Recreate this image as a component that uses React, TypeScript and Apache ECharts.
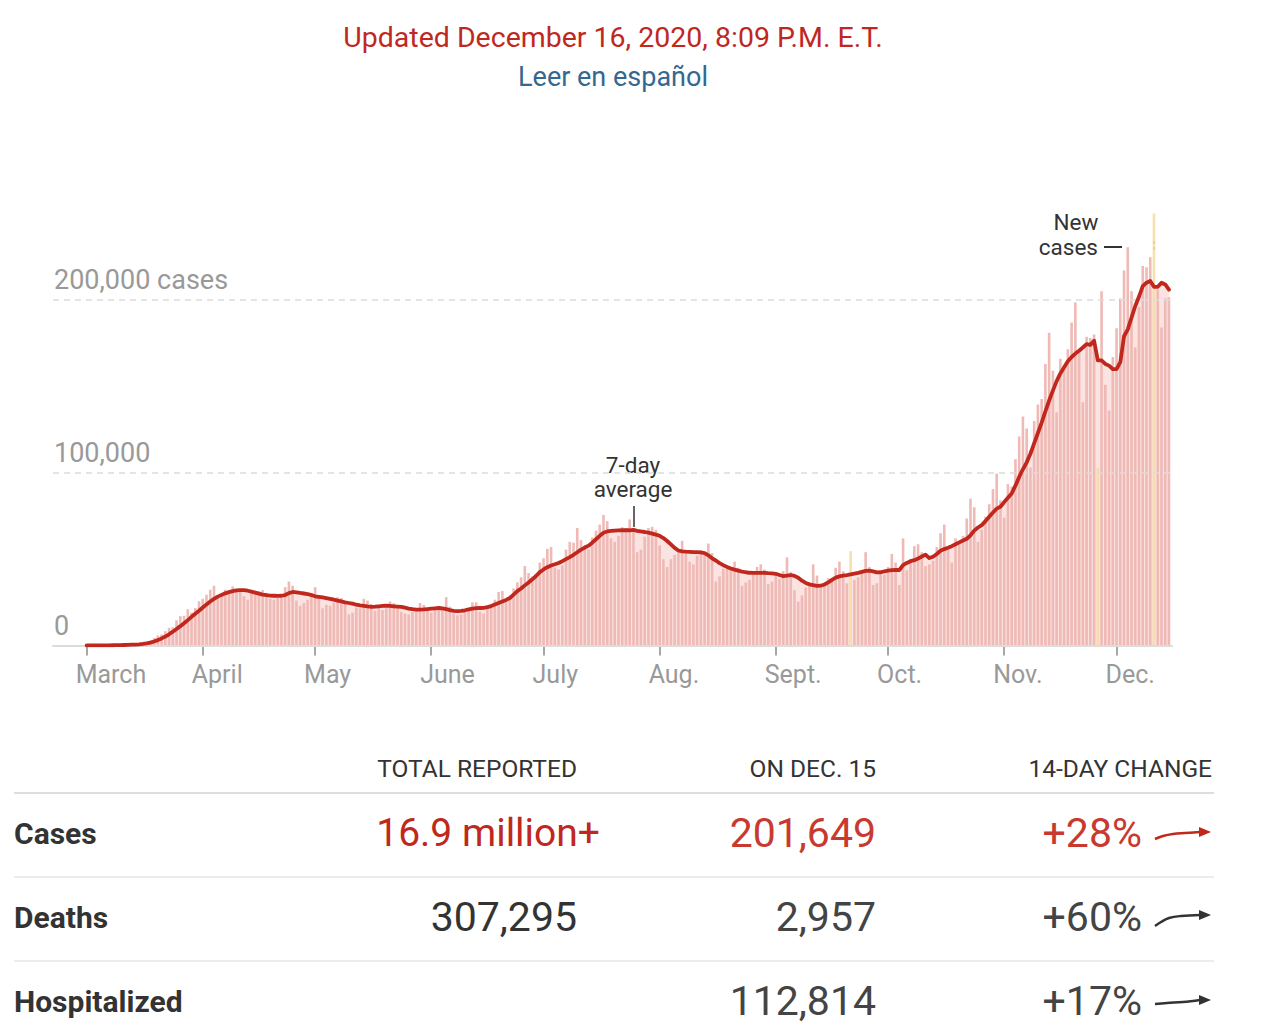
import { useEffect, useRef } from 'react';
import * as echarts from 'echarts';

const FONT = 'Roboto, "Liberation Sans", Arial, sans-serif';

// Daily new cases reported in the U.S., March 1 – Dec. 15, 2020
const marchCases = [10, 20, 30, 40, 60, 90, 110, 150, 180, 280, 400, 480, 640, 780, 760, 1100, 1800, 2900, 4400, 5800, 6300, 8300, 10200, 10600, 14600, 17000, 17200, 21000, 19000, 21700, 25600];
const aprilCases = [27000, 29400, 32300, 34600, 28500, 30000, 32300, 31300, 34200, 32700, 32300, 28500, 26500, 30400, 30000, 31500, 32000, 30500, 27000, 26500, 27500, 28500, 33800, 37000, 34600, 26000, 23000, 24600, 26500, 30500];
const mayCases = [33800, 29000, 21500, 23500, 23000, 25000, 28000, 27500, 25500, 18000, 19000, 22000, 21500, 27000, 26000, 24000, 20000, 21500, 20500, 21500, 25500, 24500, 23000, 19500, 18500, 18000, 19500, 21000, 24600, 23500, 20000];
const juneCases = [19000, 20500, 20000, 21500, 28000, 22500, 18500, 17500, 18000, 21000, 21500, 25000, 25000, 19500, 18500, 21500, 23500, 26500, 31000, 31500, 26000, 28000, 33000, 36500, 39500, 46000, 42000, 40000, 41500, 48000];
const julyCases = [50500, 56000, 57000, 45000, 44000, 46500, 55500, 60000, 59500, 68000, 61000, 58000, 55500, 62500, 66500, 70000, 75600, 72000, 62000, 60000, 63500, 68500, 68000, 73000, 68000, 54000, 55500, 63000, 68000, 68700, 67000];
const augustCases = [58000, 50000, 45500, 50000, 52500, 55000, 60600, 55000, 48500, 47000, 52000, 55000, 52500, 59000, 53500, 37000, 40000, 44500, 46000, 45000, 48500, 45000, 34500, 36500, 38000, 43000, 45500, 47000, 44000, 35500, 37000];
const septemberCases = [41500, 38500, 43000, 51000, 42500, 32000, 25400, 29000, 33500, 36000, 47000, 40500, 34000, 35500, 39000, 38500, 45000, 48500, 43000, 36000, 54600, 38000, 39500, 42500, 54000, 45500, 35000, 36000, 43000, 41000];
const octoberCases = [45500, 53000, 48000, 35000, 62000, 43500, 50000, 57500, 58600, 54000, 46000, 47000, 49000, 57000, 65000, 70000, 55500, 48000, 62000, 60500, 63500, 73500, 85000, 80000, 60000, 67000, 74500, 81800, 90500, 99500, 84000];
const novemberCases = [74000, 93400, 92000, 107800, 121000, 132600, 125600, 103000, 130000, 139500, 142700, 163000, 181000, 159000, 135000, 166000, 161000, 171500, 187000, 198500, 169600, 140800, 178700, 178000, 180000, 103000, 205000, 151000, 136000, 167000];
const decemberCases = [183700, 200800, 217000, 230500, 205000, 172500, 196000, 219600, 219000, 224800, 251000, 206000, 184000, 201000, 201649];

// 7-day average of new cases
const marchAvg = [20, 30, 40, 50, 70, 90, 120, 150, 190, 230, 290, 360, 450, 560, 690, 900, 1200, 1650, 2300, 3100, 4100, 5200, 6500, 8000, 9600, 11200, 12900, 14700, 16600, 18400, 20100];
const aprilAvg = [22000, 23800, 25500, 27000, 28300, 29300, 30200, 30900, 31500, 31900, 32100, 32000, 31700, 31200, 30600, 30000, 29500, 29100, 28900, 28800, 28700, 28800, 29200, 30300, 31000, 30800, 30400, 30100, 29800, 29200];
const mayAvg = [28500, 28200, 27800, 27400, 27000, 26500, 26000, 25500, 25000, 24600, 24200, 23600, 23200, 22900, 22600, 22400, 22500, 22700, 22900, 23000, 22900, 22700, 22500, 22300, 21900, 21400, 21000, 20800, 20800, 20900, 21100];
const juneAvg = [21300, 21500, 21700, 21500, 21000, 20500, 20100, 19900, 20000, 20400, 20900, 21400, 21600, 21700, 21800, 22200, 22800, 23700, 24600, 25500, 26400, 27500, 29500, 31500, 33000, 34800, 36500, 38300, 40200, 42500];
const julyAvg = [44000, 45300, 46300, 47000, 47800, 48800, 50000, 51200, 52500, 54000, 55500, 56700, 57800, 59500, 61500, 63500, 65300, 66000, 66300, 66500, 66600, 66700, 66800, 66700, 66900, 66400, 66000, 65700, 65300, 64800, 64200];
const augustAvg = [63500, 62200, 60500, 58500, 56500, 55000, 54500, 54300, 54200, 54100, 54000, 53900, 53500, 52200, 50500, 49200, 47700, 46500, 45500, 44600, 43900, 43300, 42800, 42400, 42100, 42000, 42000, 42000, 42100, 41900, 41800];
const septemberAvg = [41500, 40800, 40200, 40500, 40800, 40300, 39200, 37500, 36200, 35400, 34900, 34500, 34600, 35300, 36500, 38000, 39300, 40000, 40500, 40800, 41200, 41600, 42000, 42600, 43200, 43300, 42900, 42300, 42400, 42900];
const octoberAvg = [43300, 43600, 43700, 43700, 46500, 47800, 48800, 49400, 50300, 51500, 52600, 50600, 51400, 53000, 54800, 55800, 56600, 57500, 58600, 59700, 60800, 61800, 63800, 66500, 68300, 69700, 72000, 74500, 77000, 79200, 80300];
const novemberAvg = [83000, 85500, 88000, 92500, 97600, 102000, 106000, 111000, 117000, 123000, 129000, 135500, 141800, 147500, 153000, 157500, 161000, 164500, 167000, 169000, 170600, 172500, 174500, 174000, 176400, 165000, 165000, 163000, 162000, 160000];
const decemberAvg = [160000, 164000, 179000, 183000, 189800, 196500, 202000, 208000, 210000, 211000, 207600, 207600, 210000, 209000, 206000];

// Days whose counts include irregular reporting (holidays, backlogs)
const flaggedDays = ['2020-09-21', '2020-11-26', '2020-12-11'];

const monthLabels = ['March', 'April', 'May', 'June', 'July', 'Aug.', 'Sept.', 'Oct.', 'Nov.', 'Dec.'];
const yTickLabels: Record<number, string> = { 0: '0', 100000: '100,000', 200000: '200,000 cases' };

// Summary table
const tableHeaders = ['TOTAL REPORTED', 'ON DEC. 15', '14-DAY CHANGE'];
const rowLabels = ['Cases', 'Deaths', 'Hospitalized'];
const totals = ['16.9 million+', '307,295', ''];
const latestDay = ['201,649', '2,957', '112,814'];
const twoWeekChange = ['+28%', '+60%', '+17%'];
// 14-day trend sparklines, as [dx, dy] steps from the start of each arrow
const trendShapes = [
  [[0, 7], [8, 4], [18, 2], [30, 1], [45, 0]],
  [[0, 10], [6, 6], [14, 2], [26, 0], [45, -1]],
  [[0, 4], [12, 3], [28, 2], [45, 0]],
];

const dailyCases = [
  ...marchCases, ...aprilCases, ...mayCases, ...juneCases, ...julyCases,
  ...augustCases, ...septemberCases, ...octoberCases, ...novemberCases, ...decemberCases,
];
const weeklyAverage = [
  ...marchAvg, ...aprilAvg, ...mayAvg, ...juneAvg, ...julyAvg,
  ...augustAvg, ...septemberAvg, ...octoberAvg, ...novemberAvg, ...decemberAvg,
];

const DAY_MS = 86400000;
const dayKeys = dailyCases.map((_, i) =>
  new Date(Date.UTC(2020, 2, 1) + i * DAY_MS).toISOString().slice(0, 10)
);
const isMonthStart = (_: number, value: string) => String(value).endsWith('-01');

const RED = '#c0281e';
const RED_SOFT = '#c8392f';
const DARK = '#333333';
const GREY_TEXT = '#999999';

const Y_MAX = 250000;
const PLOT_TOP = 213.6;
const PLOT_BOTTOM = 386.5;

function buildGraphics() {
  const els: any[] = [];
  const text = (t: string, x: number, y: number, opts: any = {}) => ({
    type: 'text',
    x,
    y,
    silent: true,
    style: {
      text: t,
      fill: opts.fill || DARK,
      fontSize: opts.size || 20,
      fontFamily: FONT,
      fontWeight: opts.weight || 'normal',
      align: opts.align || 'left',
      textAlign: opts.align || 'left',
      verticalAlign: 'middle',
      textVerticalAlign: 'middle',
    },
  });

  // Header
  els.push(text('Updated December 16, 2020, 8:09 P.M. E.T.', 613, 37, { fill: RED, size: 28.5, align: 'center' }));
  els.push(text('Leer en español', 613, 77, { fill: '#326891', size: 27, align: 'center' }));

  // Annotations
  els.push(text('7-day', 633, 465, { size: 22.5, align: 'center' }));
  els.push(text('average', 633, 489, { size: 22.5, align: 'center' }));
  els.push({ type: 'line', silent: true, shape: { x1: 634, y1: 506, x2: 634, y2: 527 }, style: { stroke: DARK, lineWidth: 1.5 } });
  els.push(text('New', 1076, 222, { size: 22.5, align: 'center' }));
  els.push(text('cases', 1098, 247, { size: 22.5, align: 'right' }));
  els.push({ type: 'line', silent: true, shape: { x1: 1104, y1: 247, x2: 1122, y2: 247 }, style: { stroke: DARK, lineWidth: 2 } });
  els.push({ type: 'line', silent: true, shape: { x1: 1154, y1: 241, x2: 1154, y2: 251 }, style: { stroke: '#888', lineWidth: 2, lineDash: [3, 3] } });

  // Table
  const colRight = [577, 876, 1212];
  tableHeaders.forEach((h, i) => els.push(text(h, colRight[i], 768, { size: 24.5, align: 'right' })));
  const ruleY = [793, 877, 961];
  ruleY.forEach((y, i) =>
    els.push({ type: 'line', silent: true, shape: { x1: 14, y1: y, x2: 1214, y2: y }, style: { stroke: i === 0 ? '#dddddd' : '#ececec', lineWidth: 2 } })
  );
  const rowY = [833, 917, 1001];
  rowLabels.forEach((label, i) => {
    const y = rowY[i];
    const isCases = i === 0;
    els.push(text(label, 14, y, { size: 30, weight: 'bold' }));
    if (totals[i]) {
      els.push(text(totals[i], isCases ? 600 : 577, y, { size: isCases ? 39 : 41, align: 'right', fill: isCases ? RED : DARK }));
    }
    els.push(text(latestDay[i], 876, y, { size: 41, align: 'right', fill: isCases ? RED_SOFT : '#444' }));
    els.push(text(twoWeekChange[i], 1142, y, { size: 41, align: 'right', fill: isCases ? RED_SOFT : '#444' }));
    const color = isCases ? RED : DARK;
    const x0 = 1155;
    const y0 = y - 1;
    const pts = trendShapes[i].map(([dx, dy]) => [x0 + dx, y0 + dy]);
    const [ex, ey] = pts[pts.length - 1];
    els.push({ type: 'polyline', silent: true, shape: { points: pts, smooth: 0.4 }, style: { stroke: color, lineWidth: 2.5, fill: 'none' } });
    els.push({ type: 'polygon', silent: true, shape: { points: [[ex - 1, ey - 5], [ex + 11, ey], [ex - 1, ey + 5]] }, style: { fill: color } });
  });

  return els;
}

export default function App() {
  const ref = useRef<HTMLDivElement>(null);

  useEffect(() => {
    if (!ref.current) return;
    const chart = echarts.init(ref.current, null, { renderer: 'svg' });

    const barData = dailyCases.map((v, i) =>
      flaggedDays.includes(dayKeys[i])
        ? { value: v, itemStyle: { color: '#f6dc9f', opacity: 0.85 } }
        : v
    );

    chart.setOption({
      animation: false,
      backgroundColor: '#ffffff',
      textStyle: { fontFamily: FONT },
      grid: [
        { left: 84.8, right: 109.15, top: PLOT_TOP, bottom: PLOT_BOTTOM, outerBoundsMode: 'none' },
        { left: 53, right: 108, top: PLOT_TOP, bottom: PLOT_BOTTOM, outerBoundsMode: 'none' },
      ],
      xAxis: [
        {
          type: 'category',
          gridIndex: 0,
          data: dayKeys,
          boundaryGap: true,
          axisLine: { show: false },
          axisTick: {
            show: true,
            alignWithLabel: true,
            interval: isMonthStart,
            length: 10,
            lineStyle: { color: '#8a8a8a', width: 1.5 },
          },
          axisLabel: {
            show: true,
            interval: isMonthStart,
            formatter: (v: string) => monthLabels[Number(v.slice(5, 7)) - 3],
            color: GREY_TEXT,
            fontSize: 25,
            fontFamily: FONT,
            align: 'left',
            padding: [0, 0, 0, -11],
            margin: 16,
          },
          splitLine: { show: false },
        },
        {
          type: 'value',
          gridIndex: 1,
          min: 0,
          max: 1,
          z: 3,
          axisLine: { show: true, lineStyle: { color: '#dcdcdc', width: 2 } },
          axisTick: { show: false },
          axisLabel: { show: false },
          splitLine: { show: false },
        },
      ],
      yAxis: [
        { type: 'value', gridIndex: 0, min: 0, max: Y_MAX, show: false },
        {
          type: 'value',
          gridIndex: 1,
          min: 0,
          max: Y_MAX,
          interval: 100000,
          z: 3,
          axisLine: { show: false },
          axisTick: { show: false },
          axisLabel: {
            inside: true,
            margin: 1,
            showMaxLabel: false,
            formatter: (v: number) => yTickLabels[v] ?? '',
            color: GREY_TEXT,
            fontSize: 27,
            fontFamily: FONT,
            verticalAlign: 'bottom',
            padding: [0, 0, 6, 0],
          },
          splitLine: {
            show: true,
            showMinLine: false,
            showMaxLine: false,
            lineStyle: { color: '#dcdcdc', width: 1.5, type: [6, 5] },
          },
        },
      ],
      series: [
        {
          name: 'average-area',
          type: 'line',
          xAxisIndex: 0,
          yAxisIndex: 0,
          data: weeklyAverage,
          symbol: 'none',
          silent: true,
          lineStyle: { width: 0 },
          areaStyle: { color: '#fae3e1', opacity: 1 },
          z: 1,
        },
        {
          name: 'New cases',
          type: 'bar',
          xAxisIndex: 0,
          yAxisIndex: 0,
          data: barData,
          barWidth: '70%',
          itemStyle: { color: '#efbab6' },
          z: 2,
        },
        {
          name: '7-day average',
          type: 'line',
          xAxisIndex: 0,
          yAxisIndex: 0,
          data: weeklyAverage,
          symbol: 'none',
          lineStyle: { color: RED, width: 3.8, join: 'round', cap: 'round' },
          z: 5,
        },
      ],
      graphic: buildGraphics(),
    });

    return () => chart.dispose();
  }, []);

  return (
    <div
      ref={ref}
      style={{ position: 'absolute', left: 0, top: 0, width: 1280, height: 1032, background: '#fff' }}
    />
  );
}
